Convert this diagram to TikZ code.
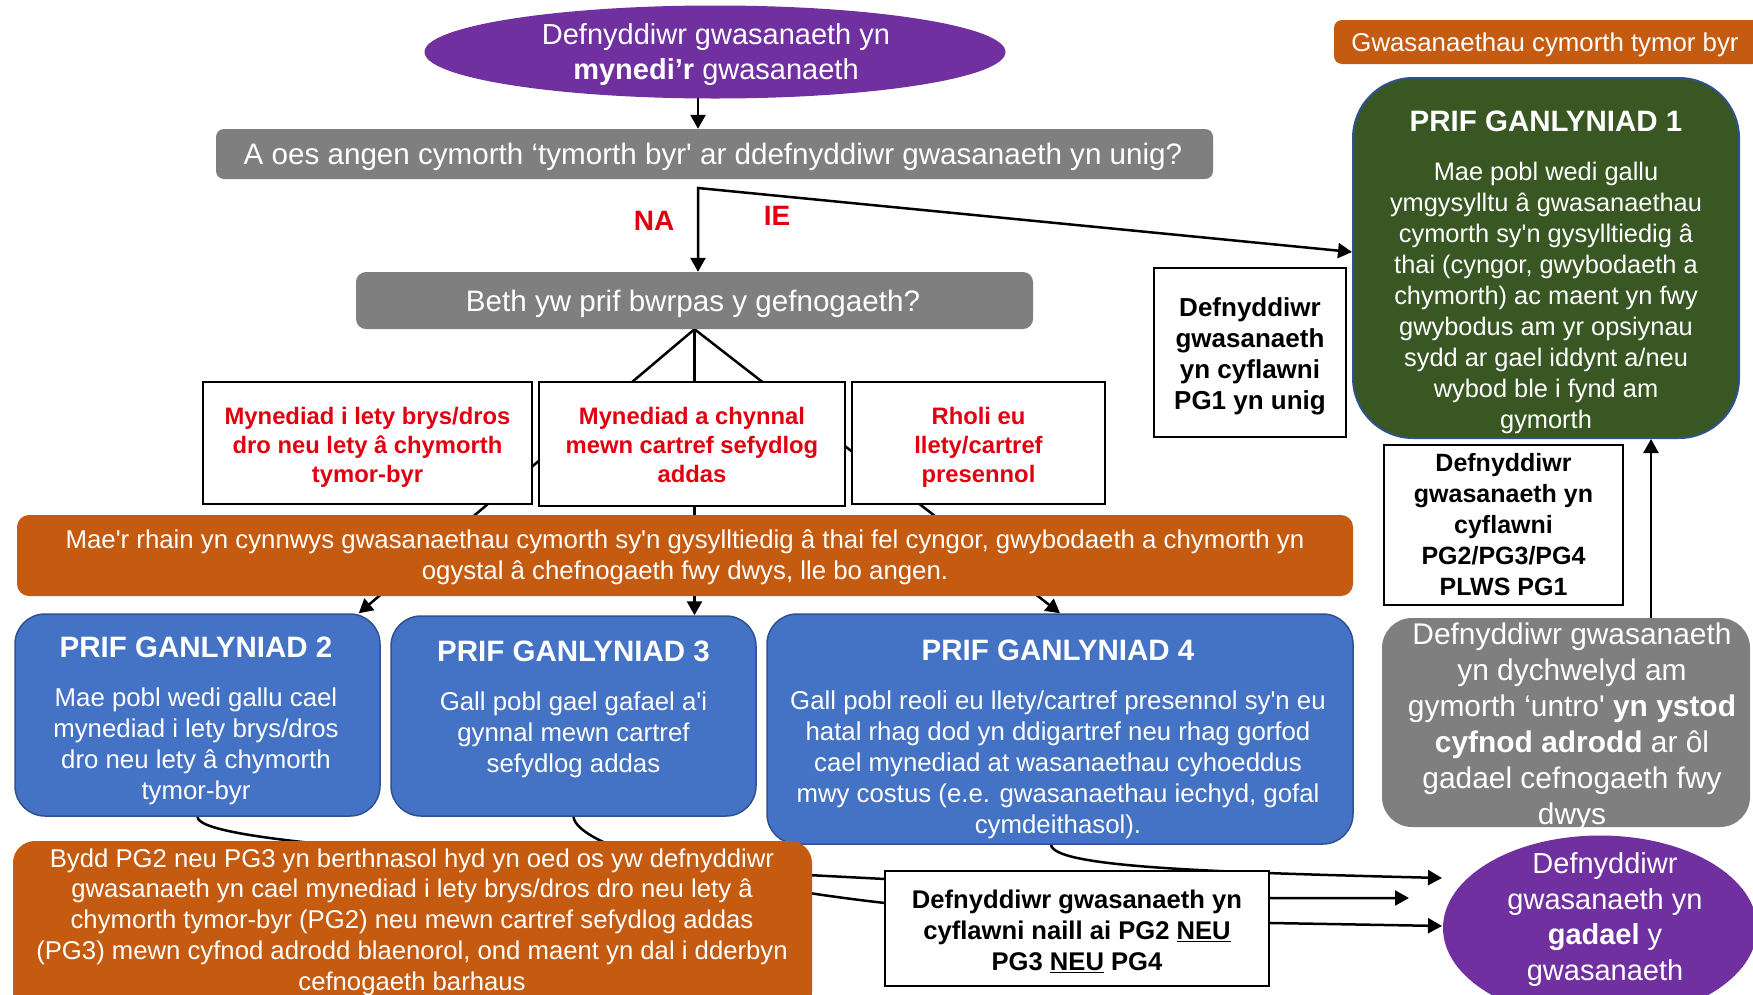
\documentclass[tikz,border=0pt]{standalone}
\usepackage{fontspec}
\setmainfont{Liberation Sans}[Ligatures=TeXOff]
\usetikzlibrary{arrows.meta,shapes.geometric,calc}
\pgfdeclarelayer{bg}
\pgfsetlayers{bg,main}
\definecolor{cpurple}{HTML}{7030A0}
\definecolor{cgray}{HTML}{7F7F7F}
\definecolor{corange}{HTML}{C55A11}
\definecolor{cblue}{HTML}{4472C4}
\definecolor{cblueline}{HTML}{2F528F}
\definecolor{cgreen}{HTML}{385723}
\definecolor{cred}{HTML}{E00010}
\newcommand{\fsz}[2]{\fontsize{#1}{#2}\selectfont}
\begin{document}
\begin{tikzpicture}[x=1pt,y=-1pt,
  line/.style={line width=2.5pt, draw=black},
  arr/.style={line, -{Triangle[length=14pt,width=15pt]}},
  wtext/.style={text=white, align=center, inner sep=0pt},
  redbox/.style={draw=black, line width=2.5pt, fill=white, inner sep=0pt},
  redtext/.style={text=cred, align=center, font=\bfseries\fsz{23.8}{29}, inner sep=0pt},
  wbox/.style={draw=black, line width=2.5pt, fill=white, inner sep=0pt},
  btext/.style={text=black, align=center, inner sep=0pt},
  bluebox/.style={fill=cblue, draw=cblueline, line width=1.5pt, rounded corners=30pt},
  graybox/.style={fill=cgray, draw=none},
  orangebox/.style={fill=corange, draw=none}]
\useasboundingbox (0,0) rectangle (1753,994);

% top ellipse
\node[ellipse, fill=cpurple, minimum width=581, minimum height=93, inner sep=0pt] (start) at (715,52) {};
\node[wtext, font=\fsz{29}{35}] (startT) at (716,54.5) {Defnyddiwr gwasanaeth yn\\\textbf{mynedi’r} gwasanaeth};

% questions
\node[graybox, rounded corners=8pt, minimum width=997, minimum height=50] (q1) at (714.5,154) {};
\node[wtext, font=\fsz{29.6}{34}] (q1T) at (713,157) {A oes angen cymorth ‘tymorth byr' ar ddefnyddiwr gwasanaeth yn unig?};
\node[graybox, rounded corners=10pt, minimum width=677, minimum height=57] (q2) at (694.5,300.5) {};
\node[wtext, font=\fsz{29.6}{34}] (q2T) at (693,303.5) {Beth yw prif bwrpas y gefnogaeth?};

\node[text=cred, font=\bfseries\fsz{28}{34}, inner sep=0pt] (na) at (654,221) {NA};
\node[text=cred, font=\bfseries\fsz{28}{34}, inner sep=0pt] (ie) at (777,216) {IE};

% red boxes
\node[redbox, minimum width=329, minimum height=122] (ra) at (367.5,443) {};
\node[redtext] (raT) at (367.5,447.5) {Mynediad i lety brys/dros\\dro neu lety â chymorth\\tymor-byr};
\node[redbox, minimum width=306, minimum height=124] (rb) at (692,444) {};
\node[redtext] (rbT) at (692,445) {Mynediad a chynnal\\mewn cartref sefydlog\\addas};
\node[redbox, minimum width=253, minimum height=122] (rc) at (978.5,443) {};
\node[redtext] (rcT) at (978.5,447.5) {Rholi eu\\llety/cartref\\presennol};

% orange bar
\node[orangebox, rounded corners=12pt, minimum width=1336, minimum height=81] (ob) at (685,555.5) {};
\node[wtext, font=\fsz{25.8}{31}] (obT) at (685,557) {Mae'r rhain yn cynnwys gwasanaethau cymorth sy'n gysylltiedig â thai fel cyngor, gwybodaeth a chymorth yn\\ogystal â chefnogaeth fwy dwys, lle bo angen.};

% outcome boxes
\node[bluebox, minimum width=365, minimum height=202] (pg2) at (197.5,715) {};
\node[wtext, font=\fsz{25.8}{31}] (pg2T) at (196,721) {{\fsz{29.5}{31}\bfseries PRIF GANLYNIAD 2}\\[18pt]Mae pobl wedi gallu cael\\mynediad i lety brys/dros\\dro neu lety â chymorth\\tymor-byr};
\node[bluebox, minimum width=365, minimum height=200] (pg3) at (573.5,716) {};
\node[wtext, font=\fsz{25.8}{31}] (pg3T) at (573.5,709) {{\fsz{29.5}{31}\bfseries PRIF GANLYNIAD 3}\\[18pt]Gall pobl gael gafael a'i\\gynnal mewn cartref\\sefydlog addas};
\node[bluebox, minimum width=586, minimum height=230] (pg4) at (1060,729) {};
\node[wtext, font=\fsz{25.8}{31}] (pg4T) at (1058,739) {{\fsz{29.5}{31}\bfseries PRIF GANLYNIAD 4}\\[18pt]Gall pobl reoli eu llety/cartref presennol sy'n eu\\hatal rhag dod yn ddigartref neu rhag gorfod\\cael mynediad at wasanaethau cyhoeddus\\mwy costus (e.e. gwasanaethau iechyd, gofal\\cymdeithasol).};

% right column
\node[orangebox, rounded corners=8pt, minimum width=426, minimum height=44] (tl) at (1547,42) {};
\node[wtext, font=\fsz{25.8}{31}] (tlT) at (1545,45) {Gwasanaethau cymorth tymor byr};
\node[fill=cgreen, draw=cblueline, line width=2pt, rounded corners=60pt, minimum width=386, minimum height=360] (pg1) at (1546,258) {};
\node[wtext, font=\fsz{25.4}{31}] (pg1T) at (1546,272) {{\fsz{29.5}{31}\bfseries PRIF GANLYNIAD 1}\\[18pt]Mae pobl wedi gallu\\ymgysylltu â gwasanaethau\\cymorth sy'n gysylltiedig â\\thai (cyngor, gwybodaeth a\\chymorth) ac maent yn fwy\\gwybodus am yr opsiynau\\sydd ar gael iddynt a/neu\\wybod ble i fynd am\\gymorth};
\node[wbox, minimum width=192, minimum height=169] (w1) at (1250,352.5) {};
\node[btext, font=\bfseries\fsz{26}{31}] (w1T) at (1250,356.5) {Defnyddiwr\\gwasanaeth\\yn cyflawni\\PG1 yn unig};
\node[wbox, minimum width=239, minimum height=160] (w2) at (1503.5,525) {};
\node[btext, font=\bfseries\fsz{25}{31}] (w2T) at (1503.5,525) {Defnyddiwr\\gwasanaeth yn\\cyflawni\\PG2/PG3/PG4\\PLWS PG1};
\node[graybox, rounded corners=30pt, minimum width=368, minimum height=209] (gr) at (1566,722.5) {};
\node[wtext, font=\fsz{29.9}{36}] (grT) at (1572,727) {Defnyddiwr gwasanaeth\\yn dychwelyd am\\gymorth ‘untro' \textbf{yn ystod}\\\textbf{cyfnod adrodd} ar ôl\\gadael cefnogaeth fwy\\dwys};

% bottom row
\node[orangebox, rounded corners=22pt, minimum width=799, minimum height=174] (bo) at (412.5,928) {};
\node[wtext, font=\fsz{25.7}{30.7}] (boT) at (412,922) {Bydd PG2 neu PG3 yn berthnasol hyd yn oed os yw defnyddiwr\\gwasanaeth yn cael mynediad i lety brys/dros dro neu lety â\\chymorth tymor-byr (PG2) neu mewn cartref sefydlog addas\\(PG3) mewn cyfnod adrodd blaenorol, ond maent yn dal i dderbyn\\cefnogaeth barhaus};
\node[wbox, minimum width=384, minimum height=115] (w3) at (1077,928.5) {};
\node[btext, font=\bfseries\fsz{25.6}{31}] (w3T) at (1077,931) {Defnyddiwr gwasanaeth yn\\cyflawni naill ai PG2 \underline{NEU}\\PG3 \underline{NEU} PG4};
\node[ellipse, fill=cpurple, minimum width=314, minimum height=185, inner sep=0pt] (leave) at (1600,928) {};
\node[wtext, font=\fsz{29}{35.5}] (leaveT) at (1605,919.5) {Defnyddiwr\\gwasanaeth yn\\\textbf{gadael} y\\gwasanaeth};

% connectors
\coordinate (split) at (698,188);
\coordinate (colx) at (1651,0);
\coordinate (tipA) at (1442,878);
\coordinate (tipB) at (1409,898);
\coordinate (tipC) at (1442,926);
\coordinate (in2) at (885,879);
\coordinate (in3) at (885,903);
\coordinate (out2) at (1271,898);
\coordinate (out3) at (1271,923);
\begin{pgfonlayer}{bg}
\draw[arr] ($(start.south)+(-17,-1)$) -- ($(q1.north)+(-16.5,0)$);
\draw[line, {Triangle[length=14pt,width=15pt]}-{Triangle[length=14pt,width=15pt]}] ($(pg1.west)+(0,-6)$) -- (split) -- (split |- q2.north);
\draw[arr] (q2.south) -- ($(pg2.north east)+(-22,0)$);
\draw[arr] (q2.south) -- (q2.south |- pg3.north);
\draw[arr] (q2.south) -- (pg4.north);
\draw[arr] (gr.north -| colx) -- (pg1.south -| colx);
\draw[arr] (pg2.south) .. controls +(0,28) and (520,860) .. (in2) -- (out2) -- (tipB);
\draw[arr] (pg3.south) .. controls +(3,28) and (700,882) .. (in3) -- (out3) -- (tipC);
\draw[arr] ($(pg4.south)+(-9,0)$) .. controls +(3,22) and (1200,872) .. (tipA);
\end{pgfonlayer}
\end{tikzpicture}
\end{document}
